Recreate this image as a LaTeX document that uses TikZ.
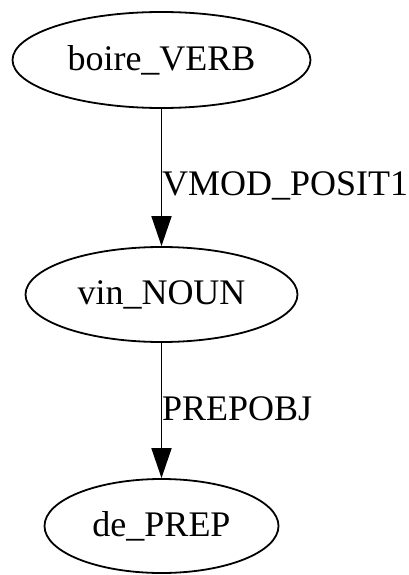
\documentclass[tikz,border=0pt]{standalone}
\usepackage{fontspec}
\setmainfont{Liberation Serif}
\usetikzlibrary{shapes.geometric,arrows.meta}
\begin{document}
\begin{tikzpicture}[x=1pt,y=1pt,
  nd/.style={draw,ellipse,line width=1.8pt,inner sep=0pt,font=\fontsize{36}{40}\selectfont},
  lbl/.style={anchor=base west,inner sep=0pt,font=\fontsize{36}{40}\selectfont},
  edge/.style={line width=1.8pt,-{Triangle[length=30pt,width=20pt]}}]
\useasboundingbox (0,0) rectangle (409,-575);
\node[nd,minimum width=298pt,minimum height=96pt] (a) at (161.5,-60) {boire\_VERB};
\node[nd,minimum width=272pt,minimum height=95pt] (b) at (161.5,-294.5) {vin\_NOUN};
\node[nd,minimum width=234pt,minimum height=94pt] (c) at (161.5,-526) {de\_PREP};
\draw[edge] (a.south) -- (b.north);
\draw[edge] (b.south) -- (c.north);
\node[lbl] (l1) at (162,-195) {VMOD\_POSIT1};
\node[lbl] (l2) at (162,-420) {PREPOBJ};
\end{tikzpicture}
\end{document}
